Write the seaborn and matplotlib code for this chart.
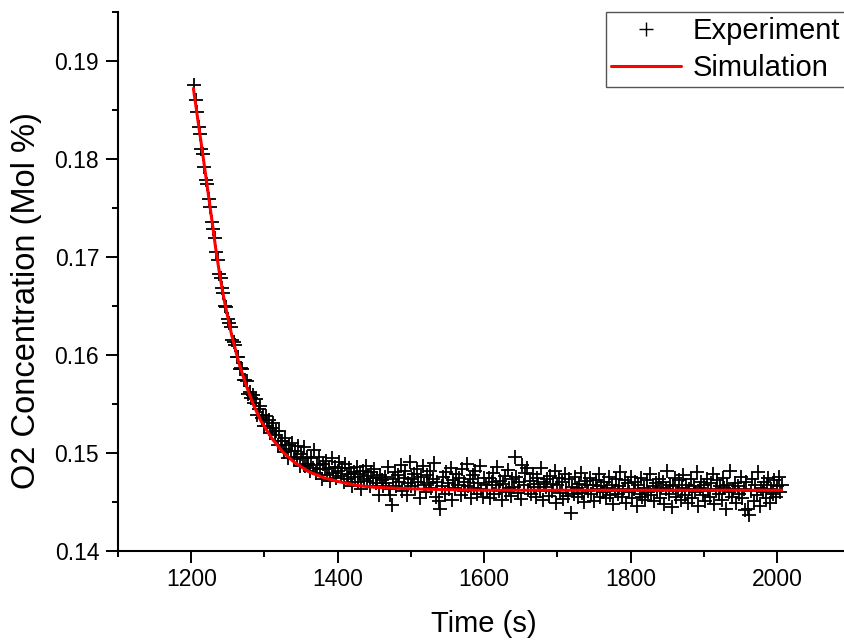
# O2 concentration: experiment vs simulation
import numpy as np
import pandas as pd
import matplotlib.pyplot as plt
import seaborn as sns
from matplotlib.ticker import MultipleLocator
from matplotlib.lines import Line2D

sns.set_style("ticks")
plt.rcParams['font.family'] = ['Liberation Sans', 'DejaVu Sans']
plt.rcParams['text.color'] = 'black'
plt.rcParams['axes.labelcolor'] = 'black'
plt.rcParams['xtick.color'] = 'black'
plt.rcParams['ytick.color'] = 'black'

# Experiment: one sample every 2 s starting at 1204 s, O2 in units of 1e-4 mol %
exp_start = 1204
exp_step = 2
exp_o2 = [
    1876, 1860, 1848, 1833, 1825, 1810, 1805, 1792, 1779, 1774,
    1759, 1751, 1736, 1729, 1719, 1705, 1697, 1683, 1679, 1668,
    1663, 1650, 1649, 1637, 1633, 1629, 1615, 1613, 1610, 1598,
    1598, 1586, 1587, 1586, 1574, 1574, 1573, 1560, 1562, 1556,
    1559, 1551, 1555, 1539, 1545, 1548, 1536, 1539, 1528, 1538,
    1528, 1534, 1520, 1526, 1531, 1518, 1522, 1508, 1522, 1512,
    1512, 1501, 1515, 1504, 1495, 1508, 1502, 1510, 1494, 1502,
    1496, 1507, 1487, 1499, 1495, 1506, 1487, 1496, 1489, 1482,
    1495, 1485, 1503, 1480, 1488, 1496, 1484, 1473, 1489, 1484,
    1492, 1478, 1485, 1471, 1495, 1480, 1486, 1474, 1482, 1491,
    1477, 1485, 1470, 1489, 1479, 1473, 1485, 1479, 1466, 1481,
    1476, 1486, 1470, 1479, 1463, 1482, 1473, 1487, 1471, 1477,
    1466, 1481, 1475, 1484, 1469, 1475, 1457, 1478, 1472, 1466,
    1476, 1469, 1486, 1463, 1457, 1447, 1473, 1481, 1466, 1478,
    1470, 1488, 1461, 1475, 1482, 1457, 1469, 1491, 1466, 1473,
    1479, 1463, 1484, 1470, 1454, 1476, 1487, 1467, 1460, 1478,
    1469, 1482, 1464, 1473, 1490, 1455, 1470, 1451, 1443, 1466,
    1476, 1458, 1481, 1469, 1463, 1485, 1452, 1472, 1464, 1479,
    1467, 1475, 1457, 1484, 1470, 1461, 1489, 1466, 1473, 1454,
    1478, 1464, 1482, 1458, 1469, 1487, 1463, 1455, 1475, 1467,
    1462, 1474, 1454, 1470, 1480, 1458, 1467, 1486, 1461, 1471,
    1452, 1468, 1477, 1460, 1483, 1464, 1456, 1473, 1465, 1496,
    1476, 1459, 1470, 1453, 1488, 1467, 1480, 1485, 1462, 1471,
    1458, 1479, 1465, 1455, 1474, 1468, 1461, 1485, 1452, 1470,
    1465, 1473, 1456, 1477, 1461, 1468, 1482, 1449, 1467, 1474,
    1459, 1470, 1453, 1479, 1462, 1456, 1473, 1439, 1465, 1458,
    1476, 1464, 1455, 1468, 1480, 1459, 1450, 1471, 1467, 1461,
    1475, 1458, 1467, 1451, 1472, 1463, 1479, 1455, 1466, 1460,
    1470, 1454, 1464, 1476, 1457, 1467, 1448, 1461, 1473, 1458,
    1466, 1481, 1455, 1463, 1472, 1449, 1469, 1460, 1476, 1454,
    1463, 1470, 1446, 1467, 1458, 1475, 1455, 1464, 1452, 1472,
    1460, 1479, 1457, 1466, 1451, 1469, 1461, 1473, 1454, 1464,
    1470, 1448, 1463, 1482, 1458, 1467, 1445, 1466, 1475, 1455,
    1461, 1472, 1452, 1464, 1478, 1457, 1467, 1449, 1463, 1473,
    1454, 1466, 1460, 1481, 1446, 1464, 1470, 1457, 1467, 1451,
    1473, 1461, 1455, 1469, 1479, 1448, 1463, 1472, 1458, 1466,
    1452, 1475, 1464, 1443, 1467, 1460, 1482, 1455, 1463, 1469,
    1449, 1466, 1458, 1476, 1454, 1463, 1442, 1470, 1443, 1437,
    1461, 1473, 1451, 1467, 1457, 1481, 1446, 1464, 1460, 1470,
    1454, 1467, 1475, 1449, 1463, 1458, 1472, 1455, 1466, 1476,
    1460, 1467,
]

# Simulation curve (same units)
sim_time = [1203, 1210, 1215, 1220, 1225, 1230, 1233, 1237, 1241, 1245,
            1255, 1265, 1275, 1285, 1295, 1310, 1325, 1340, 1360, 1380,
            1400, 1425, 1450, 1480, 1520, 1600, 1700, 1800, 1900, 2006]
sim_o2 = [1872, 1835, 1809, 1782, 1755, 1728, 1711, 1691, 1673, 1656,
          1621, 1592, 1569, 1549, 1533, 1515, 1501, 1491, 1481, 1475,
          1471, 1467, 1465, 1464, 1463, 1462, 1462, 1462, 1462, 1462]

exp_time = np.arange(exp_start, exp_start + exp_step * len(exp_o2), exp_step)
exp = pd.DataFrame({"Time": exp_time, "O2": np.array(exp_o2) / 1e4})
sim = pd.DataFrame({"Time": sim_time, "O2": np.array(sim_o2) / 1e4})

fig = plt.figure(figsize=(8.45, 6.44), dpi=100)
ax = fig.add_axes([0.1396, 0.1444, 0.8669, 0.8370])

sns.scatterplot(data=exp, x="Time", y="O2", marker="+", s=105, color="black",
                linewidth=1.3, ax=ax, legend=False)
sns.lineplot(data=sim, x="Time", y="O2", color="red", linewidth=2.2, ax=ax,
             legend=False)

ax.set_xlim(1100, 2100)
ax.set_ylim(0.14, 0.195)
ax.set_xticks([1200, 1400, 1600, 1800, 2000])
ax.set_yticks([0.14, 0.15, 0.16, 0.17, 0.18, 0.19])
ax.xaxis.set_minor_locator(MultipleLocator(100))
ax.yaxis.set_minor_locator(MultipleLocator(0.005))
ax.tick_params(which="major", direction="out", length=8.5, width=1.4,
               labelsize=16.5)
ax.tick_params(which="minor", direction="out", length=4.3, width=1.4)
ax.tick_params(axis="y", which="major", pad=5)

sns.despine(ax=ax)
for side in ["left", "bottom"]:
    ax.spines[side].set_linewidth(1.5)
    ax.spines[side].set_color("black")

ax.set_xlabel("Time (s)", fontsize=21, labelpad=14)
ax.set_ylabel("O2 Concentration (Mol %)", fontsize=23.5)
ax.yaxis.set_label_coords(-0.104, 0.465)

handles = [
    Line2D([], [], marker="+", color="black", linestyle="none",
           markersize=10, markeredgewidth=1.0),
    Line2D([], [], color="red", linewidth=2.2),
]
leg = ax.legend(handles, ["Experiment", "Simulation"], loc="upper left",
                bbox_to_anchor=(606 / 845, 1 - 12 / 644),
                bbox_transform=fig.transFigure, borderaxespad=0,
                fontsize=21, frameon=True, fancybox=False, framealpha=1,
                edgecolor="#555555", labelspacing=0.3, handlelength=2.4,
                handletextpad=0.4, borderpad=0.18)
leg.get_frame().set_linewidth(1.0)

fig.savefig("out.png", dpi=100)
